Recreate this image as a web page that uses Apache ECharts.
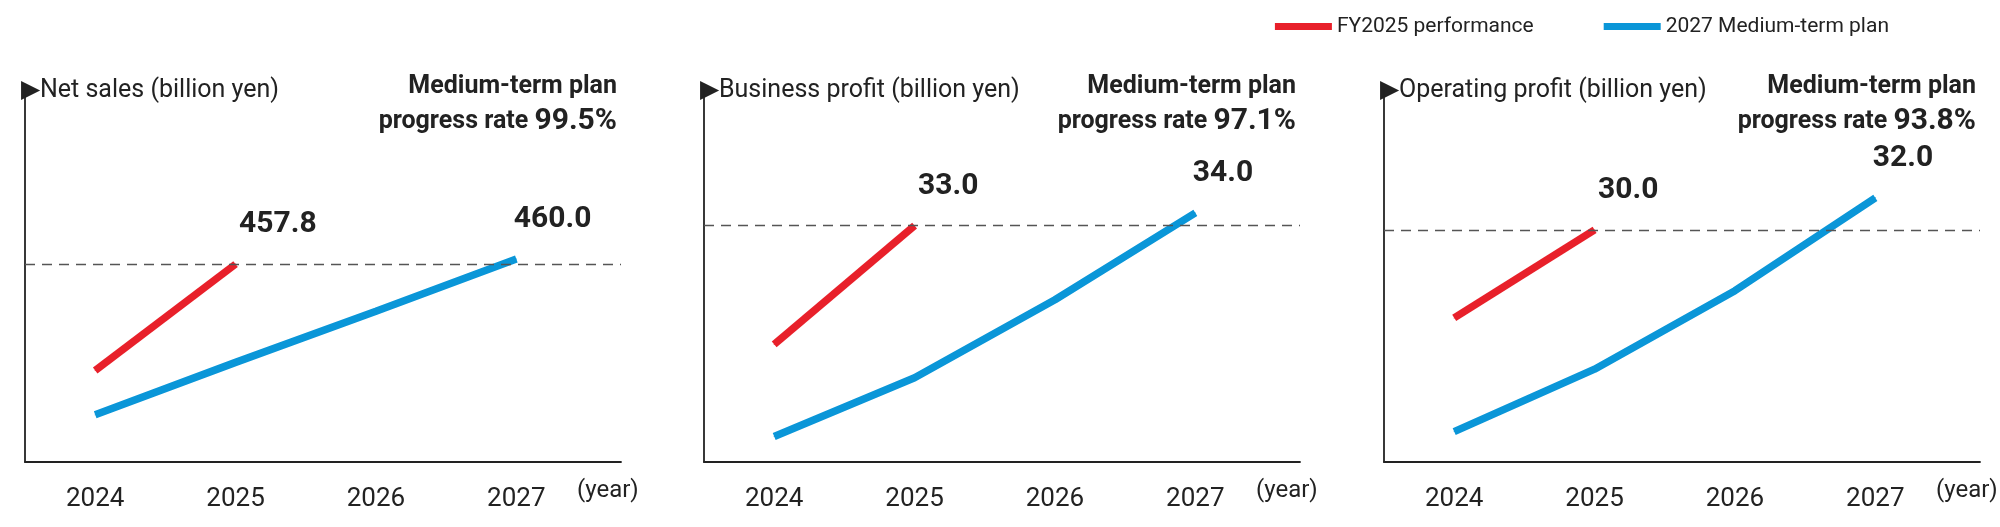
<!DOCTYPE html>
<html><head><meta charset="utf-8">
<script src="https://cdn.jsdelivr.net/npm/echarts@6/dist/echarts.min.js"></script>
<style>html,body{margin:0;background:#fff}#c{width:2000px;height:527px}</style>
</head><body><div id="c"></div>
<script>
var years = [2024, 2025, 2026, 2027];
var titles = ['Net sales (billion yen)', 'Business profit (billion yen)', 'Operating profit (billion yen)'];
var rates = ['99.5%', '97.1%', '93.8%'];
var perfYears = [2024, 2025];
var perfNet = [412.0, 457.8];
var perfBiz = [23.7, 33.0];
var perfOp = [24.5, 30.0];
var planNet = [392.9, 415.5, 437.5, 460.0];
var planBiz = [16.5, 21.1, 27.2, 34.0];
var planOp = [17.4, 21.3, 26.2, 32.0];
var yMin = [372.6, 14.5, 15.5];
var yMax = [533.2, 43.7, 38.8];

var perf = [perfNet, perfBiz, perfOp];
var plan = [planNet, planBiz, planOp];
var lefts = [25, 704, 1384];
var W = 596;
var RED = '#e8202a', BLUE = '#0a96d8';
var FONT = 'Roboto, "Liberation Sans", sans-serif';

var chart = echarts.init(document.getElementById('c'));
var grids = [], xAxes = [], yAxes = [], series = [], graphics = [];
for (var i = 0; i < 3; i++) {
  grids.push({left: lefts[i], width: W, top: 89, height: 373});
  xAxes.push({type: 'value', gridIndex: i, min: 2023.5, max: 2023.5 + 467 / 110,
    axisLine: {lineStyle: {color: '#222', width: 1.8}}, axisTick: {show: false}, splitLine: {show: false},
    axisLabel: {customValues: years, color: '#222', fontSize: 26, margin: 24, fontFamily: FONT,
      formatter: function (v) { return String(v); }}});
  yAxes.push({type: 'value', gridIndex: i, min: yMin[i], max: yMax[i],
    axisLine: {show: true, lineStyle: {color: '#222', width: 1.8}}, axisTick: {show: false},
    axisLabel: {show: false}, splitLine: {show: false}});
  var p = perf[i], q = plan[i];
  series.push({name: 'FY2025 performance', type: 'line', xAxisIndex: i, yAxisIndex: i,
    data: perfYears.map(function (y, k) { return [y, p[k]]; }),
    lineStyle: {color: RED, width: 7.5}, itemStyle: {color: RED}, symbol: 'circle', symbolSize: 1, showSymbol: true, z: 3,
    label: {show: true, position: [4, -54], color: '#222', fontSize: 30, fontWeight: 'bold', fontFamily: FONT,
      formatter: function (pr) { return pr.dataIndex === 1 ? pr.value[1].toFixed(1) : ''; }},
    markLine: {silent: true, symbol: 'none', label: {show: false},
      lineStyle: {color: '#555', type: [10, 7], width: 1.4}, data: [{yAxis: p[1]}]}});
  series.push({name: '2027 Medium-term plan', type: 'line', xAxisIndex: i, yAxisIndex: i,
    data: years.map(function (y, k) { return [y, q[k]]; }),
    lineStyle: {color: BLUE, width: 7.5}, itemStyle: {color: BLUE}, symbol: 'circle', symbolSize: 1, showSymbol: true, z: 2,
    label: {show: true, position: [-2, -54], color: '#222', fontSize: 30, fontWeight: 'bold', fontFamily: FONT,
      formatter: function (pr) { return pr.dataIndex === 3 ? pr.value[1].toFixed(1) : ''; }}});
  graphics.push({type: 'text', left: lefts[i] - 4, top: 78,
    style: {text: '▶' + titles[i], fill: '#222', font: '25px ' + FONT}});
  graphics.push({type: 'text', right: 2000 - (lefts[i] + 592), top: 74,
    style: {text: '{a|Medium-term plan}\n{a|progress rate }{b|' + rates[i] + '}', align: 'right',
      rich: {a: {fontSize: 25, fontWeight: 'bold', fontFamily: FONT, fill: '#222', lineHeight: 35, align: 'right'},
             b: {fontSize: 30, fontWeight: 'bold', fontFamily: FONT, fill: '#222', lineHeight: 35}}}});
  graphics.push({type: 'text', left: lefts[i] + 552, top: 479,
    style: {text: '(year)', fill: '#222', font: '24px ' + FONT}});
}

chart.setOption({
  animation: false,
  legend: {top: 11, right: 106, itemWidth: 57, itemHeight: 7, itemGap: 70,
    icon: 'rect', textStyle: {fontSize: 21, color: '#222', fontFamily: FONT},
    data: [{name: 'FY2025 performance', itemStyle: {color: RED}}, {name: '2027 Medium-term plan', itemStyle: {color: BLUE}}]},
  grid: grids, xAxis: xAxes, yAxis: yAxes, series: series, graphic: graphics
});
</script></body></html>
